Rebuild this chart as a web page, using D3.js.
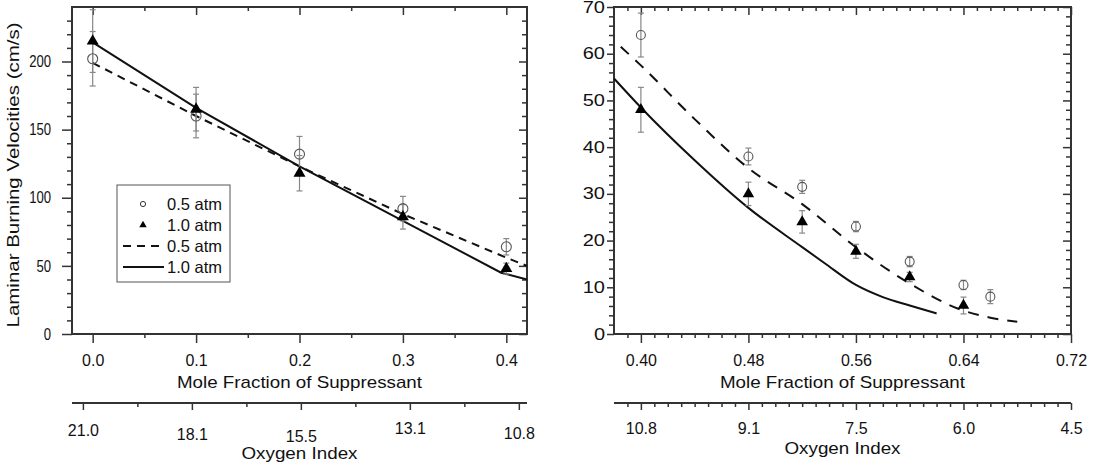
<!DOCTYPE html>
<html>
<head>
<meta charset="utf-8">
<script src="https://cdn.jsdelivr.net/npm/d3@7"></script>
<style>
body{margin:0;background:#fff;}
svg text{font-family:"Liberation Sans",Arial,sans-serif;fill:#111;font-size:16px;}
.tk line{stroke:#333;stroke-width:1.5;}
.tk path{display:none;}
</style>
</head>
<body>
<svg id="chart" width="1100" height="462"></svg>
<script>
// ---- left panel: measured points ----
var moleLeft = [0.0, 0.1, 0.2, 0.3, 0.4];
var exp05Left = [202, 160, 132, 92, 64];
var err05Left = [20, 16, 13, 9, 6];
var exp10Left = [215, 165, 118, 86, 48];
var err10Left = [23, 16, 13, 9, 4];
// left panel: computed curves
var calcMoleLeft05 = [0.0, 0.1, 0.2, 0.3, 0.4, 0.42];
var calc05Left = [199, 160, 123, 88, 56, 50];
var calcMoleLeft10 = [0.0, 0.1, 0.2, 0.3, 0.395, 0.42];
var calc10Left = [214, 166, 123, 83, 45, 40];

// ---- right panel ----
var moleRight05 = [0.40, 0.48, 0.52, 0.56, 0.60, 0.64, 0.66];
var exp05Right = [64, 38, 31.5, 23, 15.5, 10.5, 8];
var err05Right = [4.7, 1.8, 1.4, 1.1, 1.1, 1.0, 1.5];
var moleRight10 = [0.40, 0.48, 0.52, 0.56, 0.60, 0.64];
var exp10Right = [48, 30, 24, 17.7, 12.2, 6.1];
var err10Right = [4.8, 2.5, 2.4, 1.5, 1.0, 1.8];
var calcMoleRight05 = [0.385, 0.40, 0.44, 0.48, 0.52, 0.56, 0.60, 0.64, 0.66, 0.68];
var calc05Right = [61.5, 57.5, 46, 35.5, 27.8, 18.6, 10.8, 5.0, 3.5, 2.6];
var calcMoleRight10 = [0.38, 0.40, 0.44, 0.48, 0.52, 0.5365, 0.56, 0.58, 0.60, 0.62];
var calc10Right = [54.7, 48.5, 37.2, 27, 18.6, 15.2, 10.5, 7.9, 6.1, 4.4];

// ---- ticks ----
var leftMoleTicks = [0.0, 0.1, 0.2, 0.3, 0.4];
var leftVelTicks = [0, 50, 100, 150, 200];
var leftOxyLabels = ["21.0", "18.1", "15.5", "13.1", "10.8"];
var rightMoleTicks = [0.40, 0.48, 0.56, 0.64, 0.72];
var rightVelTicks = [0, 10, 20, 30, 40, 50, 60, 70];
var rightOxyLabels = ["10.8", "9.1", "7.5", "6.0", "4.5"];
var legendLabels = ["0.5 atm", "1.0 atm", "0.5 atm", "1.0 atm"];

// layout only
var leftOxyShift = [2, 6, 8, 0, 5];

var svg = d3.select("#chart");

function ticksAxis(g, axis, scale, majors, minors, majLen, minLen, fmt, pad) {
	g.append("g").attr("class", "tk")
		.call(axis(scale).tickValues(minors).tickSize(minLen).tickFormat(""));
	return g.append("g").attr("class", "tk")
		.call(axis(scale).tickValues(majors).tickSize(majLen).tickFormat(fmt || "").tickPadding(pad || 0));
}

function title(g, txt, x, y, len) {
	return g.append("text").attr("x", x).attr("y", y).attr("text-anchor", "middle")
		.style("font-size", "17px").attr("textLength", len).attr("lengthAdjust", "spacingAndGlyphs")
		.text(txt);
}

function panel(p) {
	var g = svg.append("g");
	var x = d3.scaleLinear().domain(p.xd).range([p.x0, p.x1]);
	var y = d3.scaleLinear().domain(p.yd).range([p.y1, p.y0]);

	// bottom + top
	ticksAxis(g.append("g").attr("transform", "translate(0," + p.y1 + ")"), d3.axisBottom, x,
		p.xMaj, p.xMin, 9, 4, p.xFmt, 12);
	ticksAxis(g.append("g").attr("transform", "translate(0," + p.y0 + ")"), d3.axisTop, x,
		p.xMaj, p.xMin, -8, -4);
	// left + right
	var ya = ticksAxis(g.append("g").attr("transform", "translate(" + p.x0 + ",0)"), d3.axisLeft, y,
		p.yMaj, p.yMin, p.yLen, 5, d3.format("d"), p.yPad);
	ticksAxis(g.append("g").attr("transform", "translate(" + p.x1 + ",0)"), d3.axisRight, y,
		p.yMaj, p.yMin, -8, -5);
	// y labels are drawn a bit narrower / wider than plain Arial
	ya.selectAll(".tick text").each(function() {
		var t = d3.select(this), xx = +t.attr("x");
		t.attr("x", xx / p.ySx).attr("transform", "scale(" + p.ySx + ",1)");
	});

	g.append("rect").attr("x", p.x0).attr("y", p.y0)
		.attr("width", p.x1 - p.x0).attr("height", p.y1 - p.y0)
		.attr("fill", "none").attr("stroke", "#333").attr("stroke-width", 2);

	var line = d3.line().curve(p.curve).x(function(d) { return x(d[0]); }).y(function(d) { return y(d[1]); });
	g.append("path").datum(d3.zip(p.c05x, p.c05y)).attr("d", line)
		.attr("fill", "none").attr("stroke", "#111").attr("stroke-width", 2)
		.attr("stroke-dasharray", p.dash);
	g.append("path").datum(d3.zip(p.c10x, p.c10y)).attr("d", line)
		.attr("fill", "none").attr("stroke", "#111").attr("stroke-width", 2);

	function errBars(xs, ys, es) {
		var eg = g.append("g").attr("stroke", "#888").attr("stroke-width", 1.2);
		xs.forEach(function(xv, i) {
			var cx = x(xv), top = y(ys[i] + es[i]), bot = y(ys[i] - es[i]);
			eg.append("line").attr("x1", cx).attr("x2", cx).attr("y1", top).attr("y2", bot);
			eg.append("line").attr("x1", cx - 3).attr("x2", cx + 3).attr("y1", top).attr("y2", top);
			eg.append("line").attr("x1", cx - 3).attr("x2", cx + 3).attr("y1", bot).attr("y2", bot);
		});
	}
	errBars(p.e05x, p.e05y, p.e05e);
	errBars(p.e10x, p.e10y, p.e10e);

	g.append("g").selectAll("circle").data(d3.zip(p.e05x, p.e05y)).enter().append("circle")
		.attr("cx", function(d) { return x(d[0]); }).attr("cy", function(d) { return y(d[1]); })
		.attr("r", p.r).attr("fill", "none").attr("stroke", "#555").attr("stroke-width", 1.1);
	var tri = d3.symbol().type(d3.symbolTriangle).size(p.triSize);
	g.append("g").selectAll("path").data(d3.zip(p.e10x, p.e10y)).enter().append("path")
		.attr("d", tri)
		.attr("transform", function(d) { return "translate(" + x(d[0]) + "," + y(d[1]) + ")"; })
		.attr("fill", "#000");

	title(g, "Mole Fraction of Suppressant", (p.x0 + p.x1) / 2, 388, 245);

	// oxygen index axis
	var og = g.append("g").attr("transform", "translate(0,403)");
	og.append("g").attr("class", "tk")
		.call(d3.axisBottom(p.ox).tickValues(p.oMin).tickSize(4).tickFormat(""));
	var oa = og.append("g").attr("class", "tk")
		.call(d3.axisBottom(p.ox).tickValues(p.oMaj).tickSize(7).tickPadding(13)
			.tickFormat(function(d, i) { return p.oLabels[i]; }));
	og.append("line").attr("x1", p.x0).attr("x2", p.x1).attr("y1", 0).attr("y2", 0)
		.attr("stroke", "#333").attr("stroke-width", 2);
	if (p.oShift) {
		oa.selectAll(".tick text").attr("transform", function(d, i) { return "translate(0," + p.oShift[i] + ")"; });
	}
	title(g, "Oxygen Index", (p.x0 + p.x1) / 2, p.oTitleY, 116);

	g.selectAll(".tick text").style("font-size", "16px").attr("fill", "#111");
	return {g: g, x: x, y: y};
}

var L = panel({
	x0: 72, x1: 527, y0: 7, y1: 334,
	xd: [-0.02, 0.42], yd: [0, 240],
	xMaj: leftMoleTicks, xMin: [0.05, 0.15, 0.25, 0.35], xFmt: d3.format(".1f"),
	yMaj: leftVelTicks, yMin: d3.range(10, 240, 10).filter(function(v) { return v % 50; }),
	yLen: 10, yPad: 11, ySx: 0.82,
	c05x: calcMoleLeft05, c05y: calc05Left, c10x: calcMoleLeft10, c10y: calc10Left,
	dash: "8,6", curve: d3.curveLinear,
	e05x: moleLeft, e05y: exp05Left, e05e: err05Left,
	e10x: moleLeft, e10y: exp10Left, e10e: err10Left,
	r: 5, triSize: 62,
	ox: d3.scaleLinear().domain([-0.1, 4.075]).range([72, 527]),
	oMaj: [0, 1, 2, 3, 4], oMin: [0.5, 1.5, 2.5, 3.5], oLabels: leftOxyLabels, oShift: leftOxyShift,
	oTitleY: 459
});

var R = panel({
	x0: 614, x1: 1071, y0: 7, y1: 334,
	xd: [0.38, 0.72], yd: [0, 70],
	xMaj: rightMoleTicks, xMin: d3.range(39, 72).filter(function(v) { return v % 8; }).map(function(v) { return v / 100; }),
	xFmt: d3.format(".2f"),
	yMaj: rightVelTicks, yMin: d3.range(2, 70, 2).filter(function(v) { return v % 10; }),
	yLen: 7, yPad: 2, ySx: 1.25,
	c05x: calcMoleRight05, c05y: calc05Right, c10x: calcMoleRight10, c10y: calc10Right,
	dash: "11,9", curve: d3.curveMonotoneX,
	e05x: moleRight05, e05y: exp05Right, e05e: err05Right,
	e10x: moleRight10, e10y: exp10Right, e10e: err10Right,
	r: 4.5, triSize: 58,
	ox: d3.scaleLinear().domain([0.38, 0.72]).range([614, 1071]),
	oMaj: rightMoleTicks, oMin: d3.range(39, 72).filter(function(v) { return v % 8; }).map(function(v) { return v / 100; }),
	oLabels: rightOxyLabels,
	oTitleY: 454
});

// y title (left panel only)
svg.append("text").attr("transform", "translate(19,175) rotate(-90)")
	.attr("text-anchor", "middle").style("font-size", "17px")
	.attr("textLength", 305).attr("lengthAdjust", "spacingAndGlyphs")
	.text("Laminar Burning Velocities (cm/s)");

// legend
var lg = svg.append("g").attr("transform", "translate(117,185)");
lg.append("rect").attr("width", 113).attr("height", 97)
	.attr("fill", "#fff").attr("stroke", "#555").attr("stroke-width", 1);
var rowY = d3.scaleLinear().domain([0, 3]).range([19, 82]);
lg.append("circle").attr("cx", 26).attr("cy", rowY(0)).attr("r", 2.6)
	.attr("fill", "none").attr("stroke", "#333");
lg.append("path").attr("d", d3.symbol().type(d3.symbolTriangle).size(24))
	.attr("transform", "translate(26," + rowY(1) + ")").attr("fill", "#000");
lg.append("line").attr("x1", 6).attr("x2", 47).attr("y1", rowY(2)).attr("y2", rowY(2))
	.attr("stroke", "#111").attr("stroke-width", 2).attr("stroke-dasharray", "8,6");
lg.append("line").attr("x1", 6).attr("x2", 47).attr("y1", rowY(3)).attr("y2", rowY(3))
	.attr("stroke", "#111").attr("stroke-width", 2);
lg.selectAll("text.lab").data(legendLabels).enter().append("text").attr("class", "lab")
	.attr("x", 50).attr("y", function(d, i) { return rowY(i); }).attr("dy", "0.35em")
	.style("font-size", "16.5px")
	.text(function(d) { return d; });
</script>
</body>
</html>
